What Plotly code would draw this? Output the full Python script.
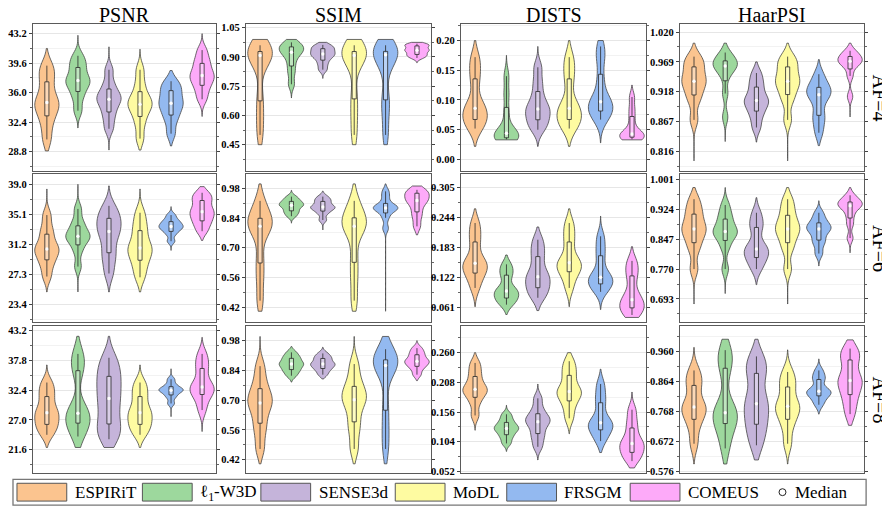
import numpy as np
import plotly.graph_objects as go
from plotly.subplots import make_subplots

methods = ["ESPIRiT", "ℓ<sub>1</sub>-W3D", "SENSE3d", "MoDL", "FRSGM", "COMEUS"]
colors = ["#FBC48F", "#9DD89D", "#C5B4DA", "#FEFBA1", "#93B9F0", "#FDAAF9"]
metrics = ["PSNR", "SSIM", "DISTS", "HaarPSI"]
factors = ["AF=4", "AF=6", "AF=8"]

# ---- values ----
# each violin: [lower whisker, ~p12, Q1, ~p38, median, ~p62, Q3, ~p88, upper whisker]
# each *_span: [min, max] extent of the violin
psnr_af4 = [
    [30.3, 32.2, 33.5, 34.3, 34.8, 35.5, 37.0, 38.3, 39.3],
    [33.8, 35.4, 36.4, 37.1, 37.5, 37.9, 38.9, 39.6, 40.5],
    [31.6, 32.9, 33.9, 34.7, 35.2, 35.6, 36.2, 37.2, 38.8],
    [30.4, 32.2, 33.4, 34.2, 34.6, 35.1, 35.8, 37.1, 38.8],
    [31.0, 32.6, 33.5, 34.3, 34.7, 35.3, 36.1, 36.7, 37.4],
    [35.2, 36.3, 37.1, 37.7, 38.1, 38.6, 39.4, 40.1, 41.2],
]
psnr_af4_span = [[28.9, 41.4], [31.7, 43.0], [29.0, 41.6], [29.0, 41.3], [29.5, 38.7], [33.1, 43.2]]

ssim_af4 = [
    [0.50, 0.60, 0.70, 0.87, 0.907, 0.915, 0.924, 0.94, 0.96],
    [0.76, 0.82, 0.865, 0.905, 0.924, 0.935, 0.949, 0.96, 0.975],
    [0.835, 0.865, 0.89, 0.905, 0.915, 0.925, 0.94, 0.95, 0.962],
    [0.50, 0.61, 0.71, 0.87, 0.907, 0.915, 0.924, 0.94, 0.96],
    [0.50, 0.62, 0.70, 0.85, 0.912, 0.918, 0.925, 0.94, 0.96],
    [0.895, 0.907, 0.915, 0.928, 0.935, 0.942, 0.955, 0.962, 0.968],
]
ssim_af4_span = [[0.45, 0.99], [0.69, 0.99], [0.79, 0.975], [0.45, 0.99], [0.45, 0.99], [0.87, 0.975]]

dists_af4 = [
    [0.052, 0.062, 0.069, 0.079, 0.086, 0.097, 0.13, 0.152, 0.172],
    [0.034, 0.035, 0.037, 0.041, 0.044, 0.052, 0.08, 0.11, 0.14],
    [0.05, 0.06, 0.069, 0.079, 0.085, 0.093, 0.109, 0.13, 0.155],
    [0.052, 0.062, 0.069, 0.079, 0.086, 0.097, 0.13, 0.152, 0.172],
    [0.067, 0.077, 0.083, 0.091, 0.097, 0.107, 0.135, 0.168, 0.19],
    [0.034, 0.036, 0.038, 0.041, 0.043, 0.05, 0.068, 0.085, 0.105],
]
dists_af4_span = [[0.022, 0.20], [0.033, 0.175], [0.022, 0.19], [0.022, 0.20], [0.028, 0.20], [0.033, 0.125]]

haar_af4 = [
    [0.87, 0.902, 0.916, 0.93, 0.936, 0.944, 0.958, 0.968, 0.978],
    [0.875, 0.915, 0.944, 0.957, 0.962, 0.965, 0.969, 0.976, 0.985],
    [0.857, 0.876, 0.888, 0.898, 0.903, 0.909, 0.923, 0.935, 0.95],
    [0.87, 0.902, 0.917, 0.93, 0.936, 0.944, 0.958, 0.968, 0.978],
    [0.848, 0.868, 0.881, 0.903, 0.913, 0.918, 0.923, 0.933, 0.948],
    [0.91, 0.945, 0.961, 0.967, 0.97, 0.973, 0.977, 0.982, 0.988],
]
haar_af4_span = [[0.80, 1.001], [0.833, 1.001], [0.832, 0.969], [0.80, 1.001], [0.826, 0.973], [0.875, 1.001]]

psnr_af6 = [
    [27.0, 28.5, 29.4, 30.2, 30.6, 31.1, 32.25, 33.3, 35.0],
    [28.3, 30.3, 31.4, 32.0, 32.25, 32.6, 33.4, 34.2, 35.8],
    [27.4, 29.2, 30.4, 32.0, 32.85, 33.6, 34.4, 35.1, 36.2],
    [26.9, 28.3, 29.4, 30.2, 30.7, 31.4, 32.7, 33.8, 35.3],
    [31.6, 32.5, 33.0, 33.3, 33.5, 33.75, 34.06, 34.4, 35.0],
    [32.9, 33.8, 34.4, 35.0, 35.43, 35.9, 36.76, 37.3, 37.9],
]
psnr_af6_span = [[25.0, 38.4], [25.0, 39.0], [25.0, 38.8], [25.0, 38.4], [30.4, 36.1], [31.7, 38.7]]

ssim_af6 = [
    [0.45, 0.56, 0.65, 0.77, 0.80, 0.815, 0.829, 0.865, 0.92],
    [0.848, 0.865, 0.876, 0.892, 0.899, 0.905, 0.915, 0.925, 0.94],
    [0.83, 0.86, 0.876, 0.886, 0.891, 0.898, 0.915, 0.925, 0.94],
    [0.45, 0.56, 0.654, 0.77, 0.80, 0.815, 0.832, 0.865, 0.92],
    [0.79, 0.84, 0.871, 0.882, 0.887, 0.893, 0.899, 0.935, 0.965],
    [0.80, 0.845, 0.876, 0.91, 0.922, 0.932, 0.954, 0.962, 0.972],
]
ssim_af6_span = [[0.40, 1.0], [0.815, 0.97], [0.783, 0.966], [0.40, 1.0], [0.40, 1.0], [0.76, 0.99]]

dists_af6 = [
    [0.10, 0.122, 0.133, 0.144, 0.15, 0.158, 0.188, 0.21, 0.232],
    [0.066, 0.075, 0.081, 0.089, 0.094, 0.101, 0.123, 0.135, 0.148],
    [0.08, 0.093, 0.103, 0.116, 0.123, 0.135, 0.159, 0.178, 0.198],
    [0.10, 0.124, 0.136, 0.145, 0.151, 0.16, 0.188, 0.21, 0.232],
    [0.092, 0.103, 0.11, 0.117, 0.122, 0.133, 0.16, 0.182, 0.205],
    [0.045, 0.052, 0.062, 0.07, 0.076, 0.092, 0.12, 0.138, 0.155],
]
dists_af6_span = [[0.062, 0.261], [0.046, 0.167], [0.054, 0.224], [0.062, 0.261], [0.056, 0.246], [0.040, 0.184]]

haar_af6 = [
    [0.77, 0.82, 0.844, 0.864, 0.873, 0.885, 0.907, 0.925, 0.95],
    [0.77, 0.825, 0.85, 0.862, 0.867, 0.875, 0.895, 0.91, 0.935],
    [0.77, 0.79, 0.803, 0.815, 0.822, 0.835, 0.873, 0.89, 0.915],
    [0.77, 0.82, 0.844, 0.864, 0.873, 0.885, 0.903, 0.925, 0.95],
    [0.81, 0.835, 0.848, 0.865, 0.873, 0.878, 0.886, 0.898, 0.915],
    [0.85, 0.885, 0.907, 0.925, 0.933, 0.937, 0.941, 0.948, 0.96],
]
haar_af6_span = [[0.68, 0.98], [0.707, 0.98], [0.73, 0.954], [0.68, 0.98], [0.778, 0.946], [0.812, 0.98]]

psnr_af8 = [
    [24.3, 25.6, 26.4, 27.5, 28.3, 29.2, 30.9, 32.3, 33.8],
    [24.0, 25.6, 26.7, 27.6, 28.2, 29.5, 35.4, 37.6, 39.0],
    [23.5, 25.0, 26.7, 29.0, 30.9, 32.7, 34.5, 36.2, 38.3],
    [24.3, 25.6, 26.4, 27.5, 28.3, 29.2, 30.9, 32.3, 33.8],
    [30.0, 31.1, 31.7, 32.2, 32.4, 32.6, 32.9, 33.5, 34.4],
    [28.8, 30.8, 31.9, 32.6, 33.0, 34.0, 36.0, 37.4, 39.0],
]
psnr_af8_span = [[22.0, 37.0], [22.0, 42.2], [22.0, 42.2], [22.0, 37.0], [27.6, 36.3], [24.9, 42.0]]

ssim_af8 = [
    [0.47, 0.55, 0.605, 0.66, 0.686, 0.71, 0.742, 0.79, 0.86],
    [0.815, 0.835, 0.847, 0.862, 0.87, 0.878, 0.894, 0.905, 0.925],
    [0.82, 0.84, 0.852, 0.864, 0.87, 0.878, 0.894, 0.903, 0.92],
    [0.47, 0.555, 0.612, 0.675, 0.702, 0.725, 0.753, 0.80, 0.87],
    [0.47, 0.57, 0.68, 0.835, 0.863, 0.875, 0.883, 0.91, 0.94],
    [0.82, 0.848, 0.863, 0.876, 0.883, 0.892, 0.91, 0.925, 0.945],
]
ssim_af8_span = [[0.40, 1.0], [0.785, 0.952], [0.80, 0.949], [0.40, 1.0], [0.40, 1.0], [0.792, 0.98]]

dists_af8 = [
    [0.15, 0.172, 0.185, 0.192, 0.196, 0.203, 0.215, 0.228, 0.242],
    [0.101, 0.111, 0.118, 0.124, 0.127, 0.131, 0.136, 0.143, 0.152],
    [0.095, 0.11, 0.121, 0.133, 0.139, 0.144, 0.15, 0.162, 0.18],
    [0.145, 0.165, 0.179, 0.188, 0.192, 0.2, 0.217, 0.23, 0.245],
    [0.105, 0.118, 0.127, 0.133, 0.137, 0.145, 0.168, 0.185, 0.205],
    [0.07, 0.08, 0.087, 0.096, 0.101, 0.108, 0.124, 0.14, 0.16],
]
dists_af8_span = [[0.124, 0.26], [0.087, 0.168], [0.072, 0.205], [0.118, 0.26], [0.085, 0.231], [0.058, 0.191]]

haar_af8 = [
    [0.665, 0.72, 0.751, 0.772, 0.783, 0.798, 0.846, 0.87, 0.9],
    [0.65, 0.705, 0.738, 0.755, 0.764, 0.79, 0.896, 0.94, 0.965],
    [0.66, 0.705, 0.735, 0.77, 0.793, 0.825, 0.884, 0.91, 0.945],
    [0.665, 0.72, 0.751, 0.774, 0.785, 0.8, 0.841, 0.865, 0.895],
    [0.79, 0.808, 0.822, 0.829, 0.833, 0.84, 0.868, 0.88, 0.9],
    [0.76, 0.8, 0.83, 0.855, 0.868, 0.885, 0.928, 0.95, 0.97],
]
haar_af8_span = [[0.60, 0.974], [0.60, 1.0], [0.613, 1.0], [0.60, 0.966], [0.76, 0.937], [0.724, 0.998]]

# ---- tick labels per panel ----
psnr_af4_ticks = ["28.8", "32.4", "36.0", "39.6", "43.2"]
ssim_af4_ticks = ["0.45", "0.60", "0.75", "0.90", "1.05"]
dists_af4_ticks = ["0.00", "0.05", "0.10", "0.15", "0.20"]
haar_af4_ticks = ["0.816", "0.867", "0.918", "0.969", "1.020"]
psnr_af6_ticks = ["23.4", "27.3", "31.2", "35.1", "39.0"]
ssim_af6_ticks = ["0.42", "0.56", "0.70", "0.84", "0.98"]
dists_af6_ticks = ["0.061", "0.122", "0.183", "0.244", "0.305"]
haar_af6_ticks = ["0.693", "0.770", "0.847", "0.924", "1.001"]
psnr_af8_ticks = ["21.6", "27.0", "32.4", "37.8", "43.2"]
ssim_af8_ticks = ["0.42", "0.56", "0.70", "0.84", "0.98"]
dists_af8_ticks = ["0.052", "0.104", "0.156", "0.208", "0.260"]
haar_af8_ticks = ["0.576", "0.672", "0.768", "0.864", "0.960"]

panels = [
    [psnr_af4, ssim_af4, dists_af4, haar_af4],
    [psnr_af6, ssim_af6, dists_af6, haar_af6],
    [psnr_af8, ssim_af8, dists_af8, haar_af8],
]
panel_spans = [
    [psnr_af4_span, ssim_af4_span, dists_af4_span, haar_af4_span],
    [psnr_af6_span, ssim_af6_span, dists_af6_span, haar_af6_span],
    [psnr_af8_span, ssim_af8_span, dists_af8_span, haar_af8_span],
]
panel_ticks = [
    [psnr_af4_ticks, ssim_af4_ticks, dists_af4_ticks, haar_af4_ticks],
    [psnr_af6_ticks, ssim_af6_ticks, dists_af6_ticks, haar_af6_ticks],
    [psnr_af8_ticks, ssim_af8_ticks, dists_af8_ticks, haar_af8_ticks],
]
# axis view ranges (layout)
y_ranges = [
    [[26.4, 44.4], [0.313, 1.07], [-0.02, 0.228], [0.782, 1.034]],
    [[21.1, 40.3], [0.35, 1.045], [0.031, 0.331], [0.634, 1.014]],
    [[17.3, 44.1], [0.355, 1.05], [0.0485, 0.307], [0.570, 1.043]],
]

# page body has an 8px margin: figure is sized/placed to fill the window
OFF = 8
W, H = 890 - OFF, 514 - OFF


def fx(x):
    return (x - OFF) / W


def fy(y):
    return 1 - (y - OFF) / H


col_px = [(29, 213), (243, 429), (459, 645), (679, 864)]
row_px = [(23, 172), (175, 324), (328, 477)]
SERIF = "Liberation Serif"

fig = make_subplots(rows=3, cols=4)

for r in range(3):
    for c in range(4):
        data = panels[r][c]
        spans = panel_spans[r][c]
        for i, d in enumerate(data):
            arr = np.array(d)
            q1, q3 = np.percentile(arr, [25, 75])
            bw = max(0.4 * min(arr.std(), (q3 - q1) / 1.34),
                     0.1 * (arr.max() - arr.min()))
            fig.add_trace(go.Violin(
                y=d, x0=i, width=0.78, spanmode="manual", span=spans[i],
                bandwidth=bw,
                fillcolor=colors[i], opacity=1,
                line=dict(color="#454545", width=0.8),
                points=False, scalemode="width",
                box=dict(visible=True, width=0.17,
                         fillcolor="rgba(255,255,255,0.35)",
                         line=dict(color="#2a2a2a", width=0.8)),
                meanline=dict(visible=False),
                hoverinfo="skip", showlegend=False,
            ), row=r + 1, col=c + 1)
        fig.add_trace(go.Scatter(
            x=list(range(len(data))),
            y=[float(np.median(d)) for d in data],
            mode="markers",
            marker=dict(color="white", size=3.5, line=dict(width=0)),
            hoverinfo="skip", showlegend=False,
        ), row=r + 1, col=c + 1)

        idx = r * 4 + c + 1
        xa = "xaxis" if idx == 1 else f"xaxis{idx}"
        ya = "yaxis" if idx == 1 else f"yaxis{idx}"
        labels = panel_ticks[r][c]
        vals = [float(s) for s in labels]
        step = vals[1] - vals[0]
        lo, hi = y_ranges[r][c]
        minor_vals = [vals[0] + step * (k + 0.5) for k in range(-4, 9)]
        minor_vals = [v for v in minor_vals if lo < v < hi]
        x0, x1 = col_px[c]
        y0, y1 = row_px[r]
        fig.layout[xa].update(
            domain=[fx(x0), fx(x1)], range=[-0.45, 5.45],
            showticklabels=False, ticks="", showgrid=False, zeroline=False,
            showline=True, mirror=True, linecolor="#5a5a5a", linewidth=1.3,
        )
        fig.layout[ya].update(
            domain=[fy(y1), fy(y0)], range=[lo, hi],
            tickmode="array", tickvals=vals, ticktext=labels,
            ticks="outside", ticklen=3, tickwidth=1, tickcolor="#444",
            showline=True, mirror="ticks", linecolor="#5a5a5a", linewidth=1.3,
            showgrid=True, gridcolor="#e6e6e6", gridwidth=1, zeroline=False,
            tickfont=dict(family=SERIF, size=10.5, color="black", weight="bold"),
            minor=dict(tickmode="array", tickvals=minor_vals, ticks="outside",
                       ticklen=2, tickcolor="#666", showgrid=True,
                       gridcolor="#f2f2f2"),
        )

annotations = []
for c, m in enumerate(metrics):
    x0, x1 = col_px[c]
    annotations.append(dict(
        x=fx((x0 + x1) / 2), y=fy(14), xref="paper", yref="paper",
        text=m, showarrow=False, xanchor="center", yanchor="middle",
        font=dict(family=SERIF, size=20, color="black")))
for r, f in enumerate(factors):
    y0, y1 = row_px[r]
    annotations.append(dict(
        x=fx(880), y=fy((y0 + y1) / 2), xref="paper", yref="paper",
        text=f, showarrow=False, textangle=90, xanchor="center", yanchor="middle",
        font=dict(family=SERIF, size=20, color="black")))

# legend drawn as a framed row at the bottom
shapes = [dict(type="rect", xref="paper", yref="paper",
               x0=fx(9), x1=fx(866), y0=fy(509), y1=fy(483),
               line=dict(color="#777", width=1.3), fillcolor="white", layer="above")]
leg_rect_x = [13, 139, 258, 393, 505, 629]
leg_rect_w = 50
for i, m in enumerate(methods):
    lx = leg_rect_x[i]
    shapes.append(dict(type="rect", xref="paper", yref="paper",
                       x0=fx(lx), x1=fx(lx + leg_rect_w), y0=fy(505), y1=fy(487),
                       line=dict(color="#555", width=1), fillcolor=colors[i], layer="above"))
    annotations.append(dict(
        x=fx(lx + leg_rect_w + 6), y=fy(496.5), xref="paper", yref="paper",
        text=m, showarrow=False, xanchor="left", yanchor="middle",
        font=dict(family=SERIF, size=17, color="black")))
cx, cy, cr = 782, 496, 3.5
shapes.append(dict(type="circle", xref="paper", yref="paper",
                   x0=fx(cx - cr), x1=fx(cx + cr), y0=fy(cy + cr), y1=fy(cy - cr),
                   line=dict(color="#222", width=1), fillcolor="white", layer="above"))
annotations.append(dict(
    x=fx(793), y=fy(496.5), xref="paper", yref="paper",
    text="Median", showarrow=False, xanchor="left", yanchor="middle",
    font=dict(family=SERIF, size=17, color="black")))

fig.update_layout(
    width=W, height=H, autosize=False,
    margin=dict(l=0, r=0, t=0, b=0),
    paper_bgcolor="white", plot_bgcolor="white",
    showlegend=False, annotations=annotations, shapes=shapes,
    violingap=0, violinmode="overlay",
)

fig.write_html("out.html")
